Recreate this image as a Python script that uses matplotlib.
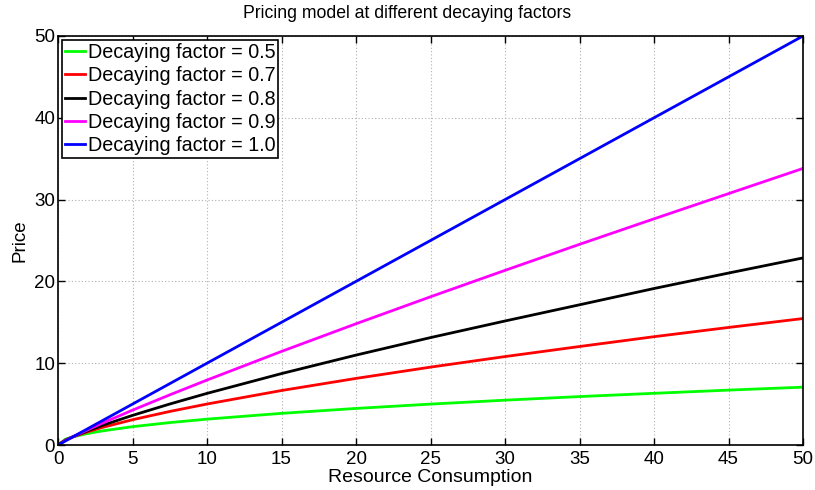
import matplotlib
matplotlib.use("Agg")
import matplotlib.pyplot as plt

plt.rcParams['font.family'] = ['Liberation Sans', 'DejaVu Sans']

# Resource consumption sample points and the price read at each point
consumption = [0, 0.5, 1, 2, 3, 5, 7.5, 10, 15, 20, 25, 30, 35, 40, 45, 50]
price_05 = [0, 0.71, 1, 1.41, 1.73, 2.24, 2.74, 3.16, 3.87, 4.47, 5.00, 5.48, 5.92, 6.32, 6.71, 7.07]
price_07 = [0, 0.62, 1, 1.62, 2.16, 3.09, 4.10, 5.01, 6.66, 8.14, 9.52, 10.81, 12.04, 13.24, 14.37, 15.46]
price_08 = [0, 0.57, 1, 1.74, 2.41, 3.62, 5.01, 6.31, 8.73, 10.99, 13.13, 15.16, 17.14, 19.13, 21.02, 22.87]
price_09 = [0, 0.54, 1, 1.87, 2.69, 4.26, 6.13, 7.94, 11.44, 14.82, 18.12, 21.35, 24.53, 27.65, 30.73, 33.81]
price_10 = [0, 0.5, 1, 2, 3, 5, 7.5, 10, 15, 20, 25, 30, 35, 40, 45, 50]

series = [
    ("Decaying factor = 0.5", price_05, "#00ff00"),
    ("Decaying factor = 0.7", price_07, "#ff0000"),
    ("Decaying factor = 0.8", price_08, "#000000"),
    ("Decaying factor = 0.9", price_09, "#ff00ff"),
    ("Decaying factor = 1.0", price_10, "#0000ff"),
]

fig = plt.figure(figsize=(8.15, 4.9), dpi=100)
ax = fig.add_axes([58 / 815, 1 - 445 / 490, (803 - 58) / 815, (445 - 36) / 490])

for label, values, color in series:
    ax.plot(consumption, values, color=color, lw=2, label=label)

ax.set_xlim(0, 50)
ax.set_ylim(0, 50)
ax.set_xticks(range(0, 51, 5))
ax.set_yticks(range(0, 51, 10))
ax.grid(True, linestyle=(0, (1, 2)), color="#b0b0b0", lw=0.8)
ax.tick_params(direction="in", length=5, width=1, labelsize=13.5, pad=2, top=True, right=True)
ax.tick_params(axis="x", pad=4)
for s in ax.spines.values():
    s.set_linewidth(1.2)

fig.text(0.5, 1 - 14 / 490, "Pricing model at different decaying factors",
         fontsize=12.7, ha="center", va="center")
ax.set_xlabel("Resource Consumption", fontsize=14, labelpad=1)
ax.set_ylabel("Price", fontsize=13.5, labelpad=4)

leg = ax.legend(loc="upper left", fontsize=14.2, frameon=True, fancybox=False,
                edgecolor="black", framealpha=1, borderpad=0.15, labelspacing=0.22,
                handlelength=1.0, handletextpad=0.15, borderaxespad=0.2)
leg.get_frame().set_linewidth(1.2)

fig.savefig("out.png", dpi=100)
